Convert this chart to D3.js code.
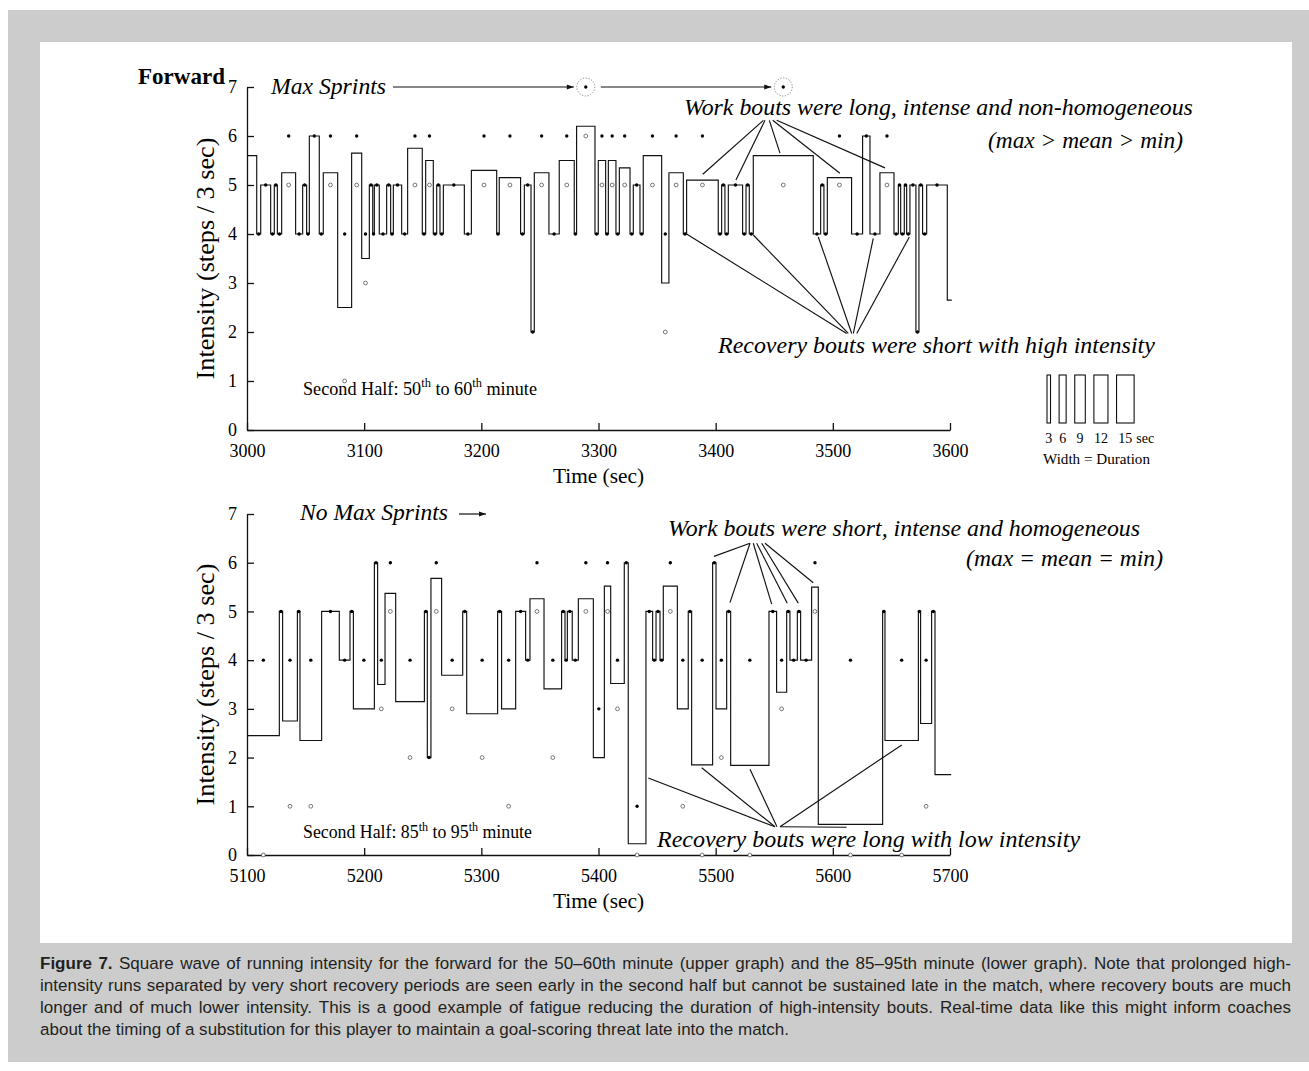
<!DOCTYPE html>
<html>
<head>
<meta charset="utf-8">
<script src="https://cdn.jsdelivr.net/npm/d3@7"></script>
<style>
  body { margin: 0; background: #fff; }
  svg { display: block; }
</style>
</head>
<body>
<svg id="fig" width="1309" height="1071"></svg>
<script>
// ---- Bouts: [start time (s), mean intensity, max, min] (steps / 3 sec) ----
// Second half, 50th to 60th minute
const upperBouts = [
  [3000.0, 5.6, null, null], [3008.3, 4, 4, 4], [3011.7, 5, 5, 5], [3020.2, 4, 4, 4],
  [3023.3, 5, 5, 5], [3025.9, 4, 4, 4], [3029.6, 5.25, 6, 5], [3041.5, 4, 4, 4],
  [3047.5, 5, 5, 5], [3050.9, 4, 4, 4], [3053.2, 6, 6, 6], [3061.7, 4, 4, 4],
  [3065.1, 5.25, 6, 5], [3077.4, 2.5, 4, 1], [3089.3, 5.65, 6, 5], [3097.9, 3.5, 4, 3],
  [3104.4, 5, 5, 5], [3107.3, 4, 4, 4], [3108.7, 5, 5, 5], [3112.9, 4, 4, 4],
  [3119.2, 5, 5, 5], [3122.6, 4, 4, 4], [3124.9, 5, 5, 5], [3132.0, 4, 4, 4],
  [3137.1, 5.75, 6, 5], [3149.6, 4, 4, 4], [3152.5, 5.5, 6, 5], [3159.0, 4, 4, 4],
  [3161.9, 5, 5, 5], [3164.7, 4, 4, 4], [3167.6, 5, 5, 5], [3185.5, 4, 4, 4],
  [3191.5, 5.3, 6, 5], [3213.1, 4, 4, 4], [3215.3, 5.15, 6, 5], [3233.5, 4, 4, 4],
  [3236.7, 5, 5, 5], [3242.4, 2, 2, 2], [3245.2, 5.25, 6, 5], [3257.7, 4, 4, 4],
  [3266.5, 5.5, 6, 5], [3279.3, 4, 4, 4], [3281.3, 6.2, 7, 6], [3297.0, 4, 4, 4],
  [3299.8, 5.5, 6, 5], [3306.1, 4, 4, 4], [3308.4, 5.5, 6, 5], [3314.9, 4, 4, 4],
  [3317.8, 5.35, 6, 5], [3326.9, 4, 4, 4], [3329.7, 5, 5, 5], [3335.4, 4, 4, 4],
  [3338.2, 5.6, 6, 5], [3353.9, 3, 4, 2], [3360.1, 5.25, 6, 5], [3372.4, 4, 4, 4],
  [3375.2, 5.1, 6, 5], [3402.2, 4, 4, 4], [3405.1, 5, 5, 5], [3407.9, 4, 4, 4],
  [3410.8, 5, 5, 5], [3423.0, 4, 4, 4], [3425.9, 5, 5, 5], [3428.7, 4, 4, 4],
  [3432.1, 5.6, 7, 5], [3483.3, 4, 4, 4], [3489.6, 5, 5, 5], [3492.4, 4, 4, 4],
  [3495.3, 5.15, 6, 5], [3516.0, 4, 4, 4], [3525.4, 6, 6, 6], [3531.7, 4, 4, 4],
  [3540.2, 5.25, 6, 5], [3552.2, 4, 4, 4], [3555.9, 5, 5, 5], [3557.9, 4, 4, 4],
  [3561.0, 5, 5, 5], [3563.0, 4, 4, 4], [3565.8, 5, 5, 5], [3570.9, 2, 2, 2],
  [3573.5, 5, 5, 5], [3576.6, 4, 4, 4], [3580.1, 5, 5, 5], [3597.7, 2.65, null, null]
];
const upperEnd = 3601.5;

// Second half, 85th to 95th minute
const lowerBouts = [
  [5097.0, 5, null, null], [5100.3, 2.45, 4, 0], [5127.6, 5, 5, 5], [5130.4, 2.75, 4, 1],
  [5143.0, 5, 5, 5], [5145.2, 2.35, 4, 1], [5163.7, 5, 5, 5], [5178.8, 4, 4, 4],
  [5187.9, 5, 5, 5], [5190.8, 3, 4, null], [5208.7, 6, 6, 6], [5211.5, 3.5, 4, 3],
  [5217.8, 5.37, 6, 5], [5226.9, 3.15, 4, 2], [5251.4, 5, 5, 5], [5253.9, 2, 2, 2],
  [5257.0, 5.68, 6, 5], [5266.1, 3.69, 4, 3], [5284.1, 5, 5, 5], [5287.5, 2.9, 4, 2],
  [5313.9, 5, 5, 5], [5317.3, 3, 4, 1], [5329.3, 5, 5, 5], [5337.8, 4, 4, 4],
  [5341.5, 5.26, 6, 5], [5353.5, 3.41, 4, 2], [5368.5, 5, 5, 5], [5371.4, 4, 4, 4],
  [5373.4, 5, 5, 5], [5377.6, 4, 4, 4], [5382.8, 5.26, 6, 5], [5395.6, 2, 3, null],
  [5405.0, 5.52, 6, 5], [5410.4, 3.52, 4, 3], [5422.0, 6, 6, 6], [5425.4, 0.23, 1, 0],
  [5440.5, 5, 5, 5], [5446.2, 4, 4, 4], [5449.1, 5, 5, 5], [5452.5, 4, 4, 4],
  [5455.3, 5.52, 6, 5], [5467.3, 3, 4, 1], [5476.6, 5, 5, 5], [5479.5, 1.85, 4, 0],
  [5497.4, 6, 6, 6], [5500.3, 3, 4, 2], [5509.4, 5, 5, 5], [5512.8, 1.84, 4, 0],
  [5545.5, 5, 5, 5], [5552.0, 3.34, 4, 3], [5560.6, 5, 5, 5], [5563.4, 4, 4, 4],
  [5569.7, 5, 5, 5], [5572.5, 4, 4, 4], [5581.9, 5.5, 6, 5], [5587.6, 0.63, 4, 0],
  [5642.5, 5, 5, 5], [5644.5, 2.35, 4, 0], [5673.0, 5, 5, 5], [5674.9, 2.7, 4, 1],
  [5684.3, 5, 5, 5], [5687.2, 1.65, null, null]
];
const lowerEnd = 5701;

// ---- Axes ----
const intensityTicks = [0, 1, 2, 3, 4, 5, 6, 7];
const upperTimeTicks = [3000, 3100, 3200, 3300, 3400, 3500, 3600];
const lowerTimeTicks = [5100, 5200, 5300, 5400, 5500, 5600, 5700];

// ---- Leader lines: [from time, from intensity, to time, to intensity] ----
const upperWorkLinks = [
  [3440.7, 6.32, 3389.0, 5.22], [3442.1, 6.32, 3417.3, 5.10], [3445.8, 6.32, 3454.9, 5.65],
  [3448.7, 6.32, 3506.0, 5.24], [3452.1, 6.32, 3544.5, 5.35]
];
const upperRecoveryLinks = [
  [3373.8, 4.02, 3511.8, 1.97], [3432.1, 3.98, 3513.2, 1.97], [3487.6, 3.94, 3516.1, 1.97],
  [3534.5, 3.91, 3517.5, 1.97], [3565.3, 3.94, 3520.4, 1.97]
];
const lowerWorkLinks = [
  [5529.3, 6.40, 5498.6, 6.13], [5529.3, 6.40, 5512.2, 5.18], [5532.1, 6.40, 5547.8, 5.15],
  [5535.0, 6.40, 5561.1, 5.17], [5539.3, 6.40, 5570.5, 5.17], [5542.1, 6.40, 5583.3, 5.59]
];
const lowerRecoveryLinks = [
  [5442.5, 1.58, 5550.6, 0.58], [5488.1, 1.79, 5550.6, 0.58], [5529.3, 1.76, 5552.3, 0.58],
  [5611.8, 0.57, 5554.9, 0.58], [5658.8, 2.26, 5554.9, 0.58]
];

// ---- Width key (seconds) ----
const legendDurations = [3, 6, 9, 12, 15];

// ---- Caption ----
const captionLines = [
  "Figure 7. Square wave of running intensity for the forward for the 50–60th minute (upper graph) and the 85–95th minute (lower graph). Note that prolonged high-",
  "intensity runs separated by very short recovery periods are seen early in the second half but cannot be sustained late in the match, where recovery bouts are much",
  "longer and of much lower intensity. This is a good example of fatigue reducing the duration of high-intensity bouts. Real-time data like this might inform coaches",
  "about the timing of a substitution for this player to maintain a goal-scoring threat late into the match."
];

// ======================================================================
const SERIF = "'Liberation Serif', 'Times New Roman', serif";
const SANS = "'Liberation Sans', Arial, Helvetica, sans-serif";
const INK = "#111";
const svg = d3.select("#fig");

// page frame
svg.append("rect").attr("x", 8).attr("y", 10).attr("width", 1301).attr("height", 1052).attr("fill", "#cccccc");
svg.append("rect").attr("x", 40).attr("y", 42).attr("width", 1252).attr("height", 901).attr("fill", "#ffffff");

const defs = svg.append("defs");
defs.append("marker").attr("id", "arrow").attr("viewBox", "0 0 10 10")
  .attr("refX", 10).attr("refY", 5).attr("markerWidth", 9).attr("markerHeight", 7)
  .attr("markerUnits", "userSpaceOnUse").attr("orient", "auto")
  .append("path").attr("d", "M0,1.5 L10,5 L0,8.5 Z").attr("fill", INK);

// scale text so that it spans a given width
function fitWidth(sel, w) {
  const fs = parseFloat(sel.attr("font-size"));
  const cur = sel.node().getComputedTextLength();
  sel.attr("font-size", (fs * w / cur).toFixed(2));
  return sel;
}

function addText(g, x, y, str, opts = {}) {
  const t = g.append("text").attr("x", x).attr("y", y)
    .attr("font-family", SERIF).attr("font-size", opts.size || 20)
    .attr("fill", "#000").attr("text-anchor", opts.anchor || "start").text(str);
  if (opts.italic) t.attr("font-style", "italic");
  if (opts.bold) t.attr("font-weight", "bold");
  if (opts.width) fitWidth(t, opts.width);
  return t;
}

// text with raised ordinal suffixes, laid out piece by piece
function ordinalText(g, x, y, parts, size, width) {
  const grp = g.append("g");
  const layout = fs => {
    grp.selectAll("*").remove();
    let xx = x;
    parts.forEach(p => {
      const sup = typeof p !== "string";
      const t = grp.append("text").attr("x", xx).attr("y", sup ? y - fs * 0.42 : y)
        .attr("font-family", SERIF).attr("font-size", sup ? fs * 0.68 : fs)
        .attr("fill", "#000").style("white-space", "pre").text(sup ? p.sup : p);
      xx += t.node().getComputedTextLength();
    });
    return xx - x;
  };
  const w0 = layout(size);
  if (width) layout(size * width / w0);
  return grp;
}

function drawPanel(cfg) {
  const x = d3.scaleLinear().domain(cfg.domain).range([247, 950]);
  const y = d3.scaleLinear().domain([0, 7]).range([cfg.bottom, cfg.top]);
  const g = svg.append("g");

  const clipId = "clip-" + cfg.id;
  defs.append("clipPath").attr("id", clipId).append("rect")
    .attr("x", 247).attr("y", cfg.top - 10).attr("width", 706).attr("height", cfg.bottom - cfg.top + 14);

  // square wave
  const pts = cfg.bouts.map(b => [b[0], b[1]]);
  pts.push([cfg.end, cfg.bouts[cfg.bouts.length - 1][1]]);
  const line = d3.line().x(d => x(d[0])).y(d => y(d[1])).curve(d3.curveStepAfter);
  g.append("path").attr("d", line(pts)).attr("fill", "none")
    .attr("stroke", INK).attr("stroke-width", 1.15).attr("clip-path", `url(#${clipId})`);

  // axes
  const xa = g.append("g").attr("transform", `translate(0,${cfg.bottom})`)
    .call(d3.axisBottom(x).tickValues(cfg.ticks).tickFormat(d3.format("d"))
      .tickSizeInner(-7).tickSizeOuter(0).tickPadding(14));
  const ya = g.append("g").attr("transform", "translate(247,0)")
    .call(d3.axisLeft(y).tickValues(intensityTicks).tickFormat(d3.format("d"))
      .tickSizeInner(-7).tickSizeOuter(0).tickPadding(10));
  [xa, ya].forEach(a => {
    a.attr("font-family", SERIF).attr("font-size", 18);
    a.selectAll("path, line").attr("stroke", INK).attr("stroke-width", 1.3);
    a.selectAll("text").attr("fill", "#000");
  });

  // markers at bout centres: filled = max, open = min
  const centres = cfg.bouts.map((b, i) => {
    const next = i < cfg.bouts.length - 1 ? cfg.bouts[i + 1][0] : cfg.end;
    return { t: (b[0] + next) / 2, mean: b[1], max: b[2], min: b[3] };
  }).filter(d => d.t >= cfg.domain[0] && d.t <= cfg.domain[1]);

  g.selectAll(".mn").data(centres.filter(d => d.min != null && d.min !== d.max)).join("circle")
    .attr("cx", d => x(d.t)).attr("cy", d => y(d.min)).attr("r", 1.9)
    .attr("fill", "#fff").attr("stroke", "#555").attr("stroke-width", 0.8);
  g.selectAll(".mx").data(centres.filter(d => d.max != null)).join("circle")
    .attr("cx", d => x(d.t)).attr("cy", d => y(d.max)).attr("r", 1.7).attr("fill", "#000");

  // leader lines
  const links = g.append("g").attr("stroke", INK).attr("stroke-width", 1.15);
  cfg.links.forEach(set => set.forEach(l => {
    links.append("line").attr("x1", x(l[0])).attr("y1", y(l[1])).attr("x2", x(l[2])).attr("y2", y(l[3]));
  }));

  // axis titles
  const midX = (247 + 950) / 2;
  addText(g, midX, cfg.bottom + 53, "Time (sec)", { size: 20, anchor: "middle", width: 91 });
  const yt = g.append("text")
    .attr("transform", `translate(214,${(cfg.top + cfg.bottom) / 2}) rotate(-90)`)
    .attr("font-family", SERIF).attr("font-size", 22).attr("text-anchor", "middle")
    .attr("fill", "#000").text("Intensity (steps / 3 sec)");
  fitWidth(yt, 242);

  return { x, y, g, centres };
}

// ---------------- upper panel ----------------
const up = drawPanel({
  id: "up", domain: [3000, 3600], top: 87, bottom: 430, bouts: upperBouts, end: upperEnd,
  ticks: upperTimeTicks, links: [upperWorkLinks, upperRecoveryLinks]
});

// max sprint rings
const sprints = up.centres.filter(d => d.max === 7);
sprints.forEach(d => {
  up.g.append("circle").attr("cx", up.x(d.t)).attr("cy", up.y(7)).attr("r", 9)
    .attr("fill", "none").attr("stroke", "#777").attr("stroke-width", 0.9)
    .attr("stroke-dasharray", "1.2,1.6");
});
addText(up.g, 271, 94, "Max Sprints", { italic: true, size: 22, width: 115 });
const sx = sprints.map(d => up.x(d.t));
up.g.append("line").attr("x1", 393).attr("y1", up.y(7)).attr("x2", sx[0] - 12).attr("y2", up.y(7))
  .attr("stroke", INK).attr("stroke-width", 1.2).attr("marker-end", "url(#arrow)");
up.g.append("line").attr("x1", sx[0] + 15).attr("y1", up.y(7)).attr("x2", sx[1] - 12).attr("y2", up.y(7))
  .attr("stroke", INK).attr("stroke-width", 1.2).attr("marker-end", "url(#arrow)");

addText(up.g, 138, 84, "Forward", { bold: true, size: 20, width: 87 });
addText(up.g, 684, 115, "Work bouts were long, intense and non-homogeneous", { italic: true, size: 23, width: 509 });
addText(up.g, 1183, 148, "(max > mean > min)", { italic: true, size: 23, anchor: "end", width: 195 });
addText(up.g, 718, 353, "Recovery bouts were short with high intensity", { italic: true, size: 23, width: 437 });
ordinalText(up.g, 303, 395, ["Second Half: 50", { sup: "th" }, " to 60", { sup: "th" }, " minute"], 16, 234);

// width key
const keyG = svg.append("g");
let kx = 1047;
legendDurations.forEach((d, i) => {
  const w = up.x(3000 + d) - up.x(3000);
  keyG.append("rect").attr("x", kx).attr("y", 375).attr("width", w).attr("height", 48)
    .attr("fill", "none").attr("stroke", INK).attr("stroke-width", 1.1);
  keyG.append("text").attr("x", kx + w / 2).attr("y", 443).attr("text-anchor", "middle")
    .attr("font-family", SERIF).attr("font-size", 14).attr("fill", "#000").text(d);
  if (i === legendDurations.length - 1) {
    keyG.append("text").attr("x", kx + w / 2 + 11).attr("y", 443)
      .attr("font-family", SERIF).attr("font-size", 14).attr("fill", "#000").text("sec");
  }
  kx += w + 8.6;
});
addText(keyG, 1043, 464, "Width = Duration", { size: 14, width: 107 });

// ---------------- lower panel ----------------
const lo = drawPanel({
  id: "lo", domain: [5100, 5700], top: 514, bottom: 855, bouts: lowerBouts, end: lowerEnd,
  ticks: lowerTimeTicks, links: [lowerWorkLinks, lowerRecoveryLinks]
});
addText(lo.g, 300, 520, "No Max Sprints", { italic: true, size: 22, width: 148 });
lo.g.append("line").attr("x1", 459).attr("y1", 514).attr("x2", 486).attr("y2", 514)
  .attr("stroke", INK).attr("stroke-width", 1.2).attr("marker-end", "url(#arrow)");
addText(lo.g, 668, 536, "Work bouts were short, intense and homogeneous", { italic: true, size: 23, width: 472 });
addText(lo.g, 1163, 566, "(max = mean = min)", { italic: true, size: 23, anchor: "end", width: 197 });
addText(lo.g, 657, 847, "Recovery bouts were long with low intensity", { italic: true, size: 23, width: 423 });
ordinalText(lo.g, 303, 838, ["Second Half: 85", { sup: "th" }, " to 95", { sup: "th" }, " minute"], 16, 229);

// ---------------- caption (justified, slightly condensed face) ----------------
const capG = svg.append("g").attr("font-family", SANS).attr("fill", "#231f20");
const capSize = 16.5;
const probe = capG.append("text").attr("font-size", capSize);
const natural = captionLines.map(l => { probe.text(l); return probe.node().getComputedTextLength(); });
probe.remove();
const widest = d3.max(natural.slice(0, -1));
const squeeze = Math.min(802 / natural[natural.length - 1], 1228 / widest);
captionLines.forEach((line, i) => {
  const words = line.split(" ");
  const yy = 969 + i * 22;
  const els = words.map((w, j) => capG.append("text").attr("font-size", capSize)
    .attr("font-weight", (i === 0 && j < 2) ? "bold" : null).text(w));
  const widths = els.map(e => e.node().getComputedTextLength() * squeeze);
  const total = d3.sum(widths);
  const last = i === captionLines.length - 1;
  const gap = last ? capSize * 0.278 * squeeze : (1251 - total) / (words.length - 1);
  let xx = 40;
  els.forEach((e, j) => {
    e.attr("transform", `translate(${xx.toFixed(2)},${yy}) scale(${squeeze.toFixed(4)},1)`);
    xx += widths[j] + gap;
  });
});
</script>
</body>
</html>
